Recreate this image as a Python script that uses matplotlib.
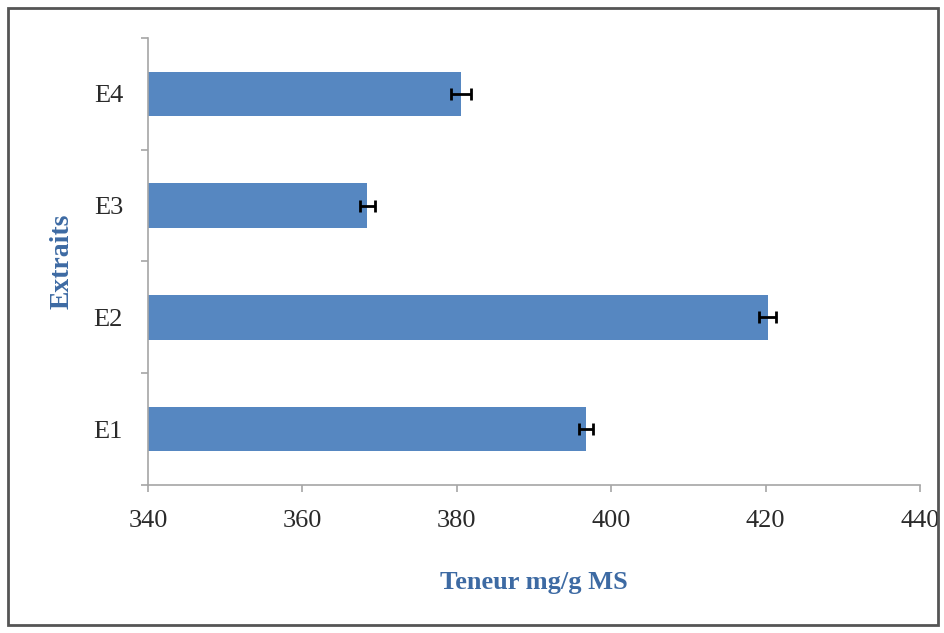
import matplotlib.pyplot as plt
from matplotlib.patches import Rectangle

# data
extraits = ['E1', 'E2', 'E3', 'E4']
teneur = [396.7, 420.3, 368.4, 380.6]
erreur = [0.9, 1.1, 1.0, 1.3]
xticks = [340, 360, 380, 400, 420, 440]

bleu = '#5687C1'
titre = '#3D6AA3'
gris = '#A6A6A6'

plt.rcParams['font.family'] = ['Liberation Serif', 'DejaVu Serif']

fig = plt.figure(figsize=(9.44, 6.33), dpi=100)
ax = fig.add_axes([0.1568, 0.2338, 0.8178, 0.7062])

# cadre autour du graphique
fig.patches.append(Rectangle((0.009, 0.012), 0.985, 0.975, transform=fig.transFigure,
                             fill=False, edgecolor='#555555', linewidth=2.0))

pos = list(range(len(extraits)))
ax.barh(pos, [v - 340 for v in teneur], left=340, height=0.4, color=bleu,
        xerr=erreur, error_kw=dict(ecolor='black', elinewidth=2, capsize=4, capthick=2))

ax.set_xlim(340, 440)
ax.set_ylim(-0.5, 3.5)
ax.set_xticks(xticks)
ax.set_xticklabels([str(v) for v in xticks], fontsize=19, color='#2a2a2a')

# graduations aux limites des categories, etiquettes au centre
ax.set_yticks([-0.5, 0.5, 1.5, 2.5, 3.5])
ax.set_yticklabels([])
ax.set_yticks(pos, minor=True)
ax.set_yticklabels(extraits, minor=True, fontsize=19, color='#2a2a2a')
ax.tick_params(axis='y', which='minor', length=0, pad=18)
ax.tick_params(axis='both', which='major', length=5, color=gris, width=1.2)
ax.tick_params(axis='x', pad=13)

for s in ['top', 'right']:
    ax.spines[s].set_visible(False)
for s in ['left', 'bottom']:
    ax.spines[s].set_color(gris)
    ax.spines[s].set_linewidth(1.2)

ax.set_xlabel('Teneur mg/g MS', fontsize=19, fontweight='bold', color=titre)
ax.xaxis.label.set_va('center')
ax.xaxis.set_label_coords(0.5, -0.219)
ax.set_ylabel('Extraits', fontsize=20, fontweight='bold', color=titre)
ax.yaxis.label.set_va('center')
ax.yaxis.set_label_coords(-0.111, 0.5)

fig.savefig('out.png', dpi=100)
